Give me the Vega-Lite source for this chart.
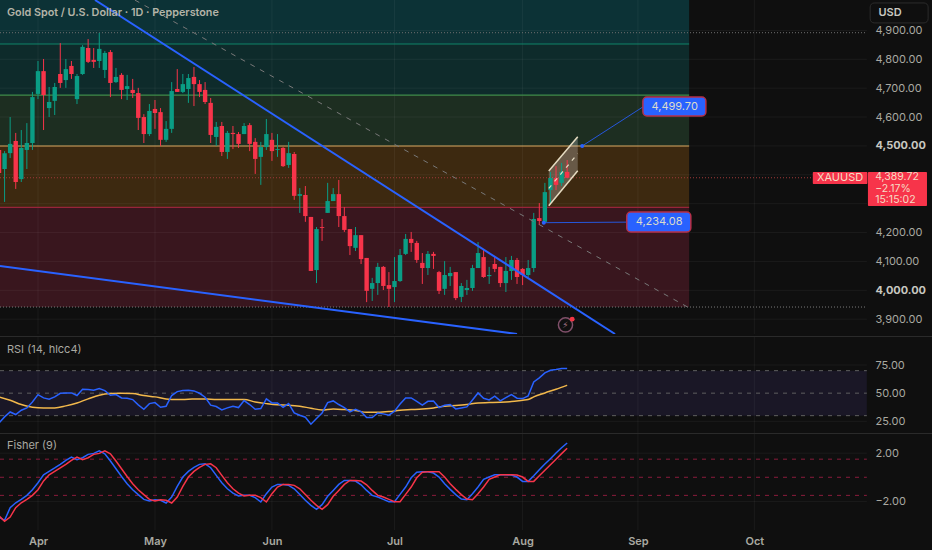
{
  "$schema": "https://vega.github.io/schema/vega-lite/v6.json",
  "background": "#0f0f0f",
  "padding": 0,
  "spacing": 0,
  "config": {
    "view": {"stroke": null},
    "text": {"font": "Inter"},
    "axis": {"labelFont": "Inter", "labelFontSize": 11, "labelColor": "#a9a9a1", "domain": false, "ticks": false, "grid": false, "title": null}
  },
  "datasets": {
    "candles": [
      {"i":-7,"o":4486,"h":4493,"l":4399,"c":4406},{"i":-6,"o":4420,"h":4482,"l":4306,"c":4475},{"i":-5,"o":4475,"h":4600,"l":4458,"c":4507},{"i":-4,"o":4517,"h":4545,"l":4351,"c":4375},
      {"i":-3,"o":4385,"h":4555,"l":4375,"c":4493},{"i":-2,"o":4486,"h":4579,"l":4420,"c":4510},{"i":-1,"o":4510,"h":4687,"l":4486,"c":4669},{"i":0,"o":4680,"h":4794,"l":4662,"c":4759},
      {"i":1,"o":4759,"h":4801,"l":4555,"c":4676},{"i":2,"o":4631,"h":4704,"l":4600,"c":4652},{"i":3,"o":4656,"h":4718,"l":4607,"c":4704},{"i":4,"o":4749,"h":4856,"l":4701,"c":4718},
      {"i":5,"o":4728,"h":4801,"l":4701,"c":4766},{"i":6,"o":4777,"h":4794,"l":4732,"c":4749},{"i":7,"o":4662,"h":4749,"l":4645,"c":4742},{"i":8,"o":4749,"h":4849,"l":4746,"c":4843},
      {"i":9,"o":4839,"h":4870,"l":4787,"c":4791},{"i":10,"o":4798,"h":4839,"l":4770,"c":4791},{"i":11,"o":4794,"h":4891,"l":4770,"c":4836},{"i":12,"o":4763,"h":4829,"l":4735,"c":4822},
      {"i":13,"o":4825,"h":4832,"l":4669,"c":4718},{"i":14,"o":4721,"h":4770,"l":4718,"c":4739},{"i":15,"o":4746,"h":4752,"l":4662,"c":4694},{"i":16,"o":4697,"h":4746,"l":4659,"c":4707},
      {"i":17,"o":4694,"h":4732,"l":4666,"c":4683},{"i":18,"o":4683,"h":4701,"l":4555,"c":4597},{"i":19,"o":4600,"h":4610,"l":4510,"c":4541},{"i":20,"o":4541,"h":4645,"l":4534,"c":4621},
      {"i":21,"o":4628,"h":4659,"l":4559,"c":4614},{"i":22,"o":4617,"h":4631,"l":4500,"c":4521},{"i":23,"o":4521,"h":4586,"l":4514,"c":4559},{"i":24,"o":4559,"h":4721,"l":4545,"c":4690},
      {"i":25,"o":4697,"h":4766,"l":4687,"c":4687},{"i":26,"o":4687,"h":4749,"l":4683,"c":4714},{"i":27,"o":4697,"h":4749,"l":4649,"c":4735},{"i":28,"o":4739,"h":4773,"l":4638,"c":4714},
      {"i":29,"o":4714,"h":4728,"l":4669,"c":4687},{"i":30,"o":4694,"h":4721,"l":4645,"c":4652},{"i":31,"o":4649,"h":4666,"l":4510,"c":4538},{"i":32,"o":4531,"h":4583,"l":4500,"c":4566},
      {"i":33,"o":4569,"h":4583,"l":4465,"c":4479},{"i":34,"o":4479,"h":4552,"l":4455,"c":4545},{"i":35,"o":4545,"h":4569,"l":4489,"c":4541},{"i":36,"o":4541,"h":4548,"l":4493,"c":4507},
      {"i":37,"o":4541,"h":4579,"l":4541,"c":4569},{"i":38,"o":4572,"h":4579,"l":4482,"c":4507},{"i":39,"o":4514,"h":4527,"l":4403,"c":4455},{"i":40,"o":4462,"h":4514,"l":4365,"c":4496},
      {"i":41,"o":4496,"h":4593,"l":4486,"c":4541},{"i":42,"o":4521,"h":4545,"l":4448,"c":4482},{"i":43,"o":4486,"h":4541,"l":4462,"c":4489},{"i":44,"o":4493,"h":4496,"l":4427,"c":4430},
      {"i":45,"o":4434,"h":4514,"l":4424,"c":4475},{"i":46,"o":4472,"h":4479,"l":4313,"c":4327},{"i":47,"o":4327,"h":4354,"l":4268,"c":4333},{"i":48,"o":4330,"h":4361,"l":4237,"c":4257},
      {"i":49,"o":4254,"h":4254,"l":4067,"c":4067},{"i":50,"o":4070,"h":4219,"l":4025,"c":4212},{"i":51,"o":4219,"h":4247,"l":4171,"c":4216},{"i":52,"o":4268,"h":4372,"l":4268,"c":4309},
      {"i":53,"o":4309,"h":4354,"l":4309,"c":4333},{"i":54,"o":4333,"h":4382,"l":4219,"c":4257},{"i":55,"o":4257,"h":4288,"l":4202,"c":4209},{"i":56,"o":4212,"h":4212,"l":4122,"c":4153},
      {"i":57,"o":4147,"h":4219,"l":4136,"c":4191},{"i":58,"o":4191,"h":4191,"l":4091,"c":4108},{"i":59,"o":4112,"h":4112,"l":3959,"c":3998},{"i":60,"o":4005,"h":4043,"l":3963,"c":4025},
      {"i":61,"o":4025,"h":4095,"l":3984,"c":4081},{"i":62,"o":4081,"h":4084,"l":4001,"c":4015},{"i":63,"o":4018,"h":4063,"l":3942,"c":4005},{"i":64,"o":4011,"h":4115,"l":3959,"c":4032},
      {"i":65,"o":4032,"h":4143,"l":4029,"c":4122},{"i":66,"o":4126,"h":4195,"l":4122,"c":4178},{"i":67,"o":4178,"h":4202,"l":4133,"c":4164},{"i":68,"o":4164,"h":4171,"l":4095,"c":4105},
      {"i":69,"o":4095,"h":4129,"l":4022,"c":4077},{"i":70,"o":4077,"h":4136,"l":4053,"c":4126},{"i":71,"o":4126,"h":4133,"l":4074,"c":4119},{"i":72,"o":4063,"h":4067,"l":3987,"c":3998},
      {"i":73,"o":4005,"h":4101,"l":3984,"c":4053},{"i":74,"o":4049,"h":4081,"l":4015,"c":4060},{"i":75,"o":4063,"h":4063,"l":3966,"c":3973},{"i":76,"o":3977,"h":4025,"l":3959,"c":4015},
      {"i":77,"o":4001,"h":4036,"l":3984,"c":4008},{"i":78,"o":4008,"h":4088,"l":3998,"c":4077},{"i":79,"o":4077,"h":4167,"l":4077,"c":4129},{"i":80,"o":4115,"h":4140,"l":4043,"c":4046},
      {"i":81,"o":4049,"h":4081,"l":4022,"c":4053},{"i":82,"o":4091,"h":4115,"l":4063,"c":4074},{"i":83,"o":4081,"h":4081,"l":4011,"c":4025},{"i":84,"o":4025,"h":4115,"l":3994,"c":4067},
      {"i":85,"o":4067,"h":4119,"l":4036,"c":4105},{"i":86,"o":4105,"h":4112,"l":4022,"c":4046},{"i":87,"o":4074,"h":4077,"l":4018,"c":4053},{"i":88,"o":4053,"h":4105,"l":4046,"c":4077},
      {"i":89,"o":4077,"h":4268,"l":4063,"c":4247},{"i":90,"o":4250,"h":4302,"l":4226,"c":4240},{"i":91,"o":4237,"h":4372,"l":4233,"c":4340},{"i":92,"o":4347,"h":4410,"l":4302,"c":4389},
      {"i":93,"o":4389,"h":4430,"l":4347,"c":4365},{"i":94,"o":4372,"h":4441,"l":4361,"c":4410},{"i":95,"o":4410,"h":4451,"l":4389,"c":4389.72}
    ],
    "zones": [
      {"k":"z1","i":-6.822,"i2":116.9,"p":5005.3,"p2":4853},{"k":"z2","i":-6.822,"i2":116.9,"p":4853,"p2":4676},{"k":"z3","i":-6.822,"i2":116.9,"p":4676,"p2":4499.7},{"k":"z4","i":-6.822,"i2":116.9,"p":4499.7,"p2":4287},{"k":"z5","i":-6.822,"i2":116.9,"p":4287,"p2":3942}
    ],
    "levels": [
      {"k":"l1","i":-6.822,"i2":116.9,"p":4853},{"k":"l2","i":-6.822,"i2":116.9,"p":4676},{"k":"l3","i":-6.822,"i2":116.9,"p":4499.7},{"k":"l4","i":-6.822,"i2":116.9,"p":4287}
    ],
    "dotted": [
      {"k":"d1","i":-6.822,"i2":148.8,"p":4892},{"k":"d2","i":-6.822,"i2":148.8,"p":4389.72},{"k":"d3","i":-6.822,"i2":148.8,"p":3942}
    ],
    "priceGrid": [
      {"i":-6.822,"i2":148.8,"p":4900},{"i":-6.822,"i2":148.8,"p":4800},{"i":-6.822,"i2":148.8,"p":4700},{"i":-6.822,"i2":148.8,"p":4600},{"i":-6.822,"i2":148.8,"p":4500},{"i":-6.822,"i2":148.8,"p":4400},{"i":-6.822,"i2":148.8,"p":4300},{"i":-6.822,"i2":148.8,"p":4200},{"i":-6.822,"i2":148.8,"p":4100},{"i":-6.822,"i2":148.8,"p":4000},{"i":-6.822,"i2":148.8,"p":3900}
    ],
    "monthsMain": [
      {"i":0,"p":3848.6,"p2":5005.3},{"i":21,"p":3848.6,"p2":5005.3},{"i":42,"p":3848.6,"p2":5005.3},{"i":64,"p":3848.6,"p2":5005.3},{"i":87,"p":3848.6,"p2":5005.3},{"i":107.7,"p":3848.6,"p2":5005.3},{"i":128.6,"p":3848.6,"p2":5005.3}
    ],
    "monthsRsi": [
      {"i":0,"v":14.6,"v2":100.8},{"i":21,"v":14.6,"v2":100.8},{"i":42,"v":14.6,"v2":100.8},{"i":64,"v":14.6,"v2":100.8},{"i":87,"v":14.6,"v2":100.8},{"i":107.7,"v":14.6,"v2":100.8},{"i":128.6,"v":14.6,"v2":100.8}
    ],
    "monthsFisher": [
      {"i":0,"v":-4.37,"v2":3.67},{"i":21,"v":-4.37,"v2":3.67},{"i":42,"v":-4.37,"v2":3.67},{"i":64,"v":-4.37,"v2":3.67},{"i":87,"v":-4.37,"v2":3.67},{"i":107.7,"v":-4.37,"v2":3.67},{"i":128.6,"v":-4.37,"v2":3.67}
    ],
    "trend": [
      {"i":10.23,"p":5005.3,"i2":103.6,"p2":3848.6},{"i":-6.82,"p":4084,"i2":86,"p2":3848.6}
    ],
    "forecast": [
      {"i":17.4,"p":5005,"i2":116.9,"p2":3939}
    ],
    "channel": [
      {"i":91.7,"p":4413,"p2":4293},{"i":96.9,"p":4532,"p2":4414}
    ],
    "channelEdges": [
      {"i":91.7,"p":4413,"i2":96.9,"p2":4532},{"i":91.7,"p":4293,"i2":96.9,"p2":4414}
    ],
    "channelMid": [
      {"i":91.7,"p":4353,"i2":96.9,"p2":4473}
    ],
    "callouts": [
      {"i":108.6,"i2":119.9,"p":4669,"p2":4604,"t":"4,499.70","mi":114.3,"mp":4636},
      {"i":105.7,"i2":117.2,"p":4271,"p2":4202,"t":"4,234.08","mi":111.5,"mp":4237}
    ],
    "connectors": [
      {"i":97.7,"p":4499.7,"i2":108.6,"p2":4635},{"i":90.8,"p":4234.08,"i2":105.7,"p2":4236}
    ],
    "anchors": [
      {"i":97.7,"p":4499.7},{"i":90.8,"p":4234.08}
    ],
    "priceTags": [
      {"i":139.1,"i2":148.9,"p":4410,"p2":4368},{"i":149,"i2":159.6,"p":4410,"p2":4292}
    ],
    "tagLines": [
      {"i":150.3,"p":4391,"t":"4,389.72"},{"i":150.3,"p":4352,"t":"−2.17%"},{"i":150.3,"p":4313,"t":"15:15:02"}
    ],
    "osc": [
      {"i":-7,"rsi":23.6,"fisher":-3.3,"signal":-3.2},{"i":-6,"rsi":28.9,"fisher":-3.57,"signal":-3.65},{"i":-5,"rsi":33.3,"fisher":-2.52,"signal":-3.3},{"i":-4,"rsi":31,"fisher":-2.11,"signal":-2.52},
      {"i":-3,"rsi":34.8,"fisher":-1.83,"signal":-2.11},{"i":-2,"rsi":36.9,"fisher":-1.5,"signal":-1.83},{"i":-1,"rsi":42.2,"fisher":-1.03,"signal":-1.5},{"i":0,"rsi":48.7,"fisher":-0.45,"signal":-1.03},
      {"i":1,"rsi":45.8,"fisher":0.21,"signal":-0.3},{"i":2,"rsi":44.6,"fisher":0.49,"signal":0.21},{"i":3,"rsi":46.7,"fisher":0.77,"signal":0.49},{"i":4,"rsi":49.9,"fisher":1.07,"signal":0.77},
      {"i":5,"rsi":50.2,"fisher":1.4,"signal":1.07},{"i":6,"rsi":50.2,"fisher":1.68,"signal":1.4},{"i":7,"rsi":47.9,"fisher":1.46,"signal":1.68},{"i":8,"rsi":53.5,"fisher":1.62,"signal":1.46},
      {"i":9,"rsi":53.2,"fisher":1.9,"signal":1.62},{"i":10,"rsi":52.6,"fisher":1.98,"signal":1.9},{"i":11,"rsi":54.1,"fisher":2.2,"signal":1.98},{"i":12,"rsi":52.3,"fisher":1.95,"signal":2.2},
      {"i":13,"rsi":48.1,"fisher":1.35,"signal":1.95},{"i":14,"rsi":48.7,"fisher":0.71,"signal":1.35},{"i":15,"rsi":45.8,"fisher":0.07,"signal":0.71},{"i":16,"rsi":45.5,"fisher":-0.53,"signal":0.07},
      {"i":17,"rsi":44.3,"fisher":-1.03,"signal":-0.53},{"i":18,"rsi":39.6,"fisher":-1.44,"signal":-1.03},{"i":19,"rsi":35.7,"fisher":-1.83,"signal":-1.44},{"i":20,"rsi":40.7,"fisher":-1.97,"signal":-1.83},
      {"i":21,"rsi":41.6,"fisher":-1.86,"signal":-1.97},{"i":22,"rsi":37.5,"fisher":-1.91,"signal":-1.86},{"i":23,"rsi":38.4,"fisher":-2.13,"signal":-1.91},{"i":24,"rsi":47.9,"fisher":-1.64,"signal":-2.13},
      {"i":25,"rsi":51.4,"fisher":-0.75,"signal":-1.64},{"i":26,"rsi":52.3,"fisher":0.02,"signal":-0.75},{"i":27,"rsi":52.6,"fisher":0.49,"signal":0.02},{"i":28,"rsi":52,"fisher":0.82,"signal":0.49},
      {"i":29,"rsi":49.9,"fisher":1.07,"signal":0.82},{"i":30,"rsi":46.4,"fisher":1.12,"signal":1.07},{"i":31,"rsi":39.3,"fisher":0.79,"signal":1.12},{"i":32,"rsi":38.1,"fisher":0.16,"signal":0.79},
      {"i":33,"rsi":35.1,"fisher":-0.45,"signal":0.16},{"i":34,"rsi":36.9,"fisher":-0.95,"signal":-0.45},{"i":35,"rsi":38.4,"fisher":-1.31,"signal":-0.95},{"i":36,"rsi":37.2,"fisher":-1.55,"signal":-1.31},
      {"i":37,"rsi":43.4,"fisher":-1.5,"signal":-1.55},{"i":38,"rsi":39.9,"fisher":-1.5,"signal":-1.5},{"i":39,"rsi":35.7,"fisher":-1.69,"signal":-1.5},{"i":40,"rsi":36.3,"fisher":-2.05,"signal":-1.69},
      {"i":41,"rsi":44.9,"fisher":-1.36,"signal":-2.05},{"i":42,"rsi":41.3,"fisher":-0.81,"signal":-1.36},{"i":43,"rsi":41.3,"fisher":-0.59,"signal":-0.81},{"i":44,"rsi":37.5,"fisher":-0.59,"signal":-0.59},
      {"i":45,"rsi":40.7,"fisher":-0.67,"signal":-0.59},{"i":46,"rsi":32.4,"fisher":-0.95,"signal":-0.67},{"i":47,"rsi":30.4,"fisher":-1.42,"signal":-0.95},{"i":48,"rsi":28.6,"fisher":-1.91,"signal":-1.42},
      {"i":49,"rsi":22.4,"fisher":-2.33,"signal":-1.91},{"i":50,"rsi":27.4,"fisher":-2.66,"signal":-2.33},{"i":51,"rsi":32.4,"fisher":-2.27,"signal":-2.66},{"i":52,"rsi":41.6,"fisher":-1.58,"signal":-2.27},
      {"i":53,"rsi":43.1,"fisher":-1.09,"signal":-1.58},{"i":54,"rsi":39.9,"fisher":-0.59,"signal":-1.09},{"i":55,"rsi":37.2,"fisher":-0.26,"signal":-0.59},{"i":56,"rsi":33.3,"fisher":-0.26,"signal":-0.26},
      {"i":57,"rsi":35.7,"fisher":-0.31,"signal":-0.26},{"i":58,"rsi":33.6,"fisher":-0.62,"signal":-0.31},{"i":59,"rsi":28.3,"fisher":-1.09,"signal":-0.62},{"i":60,"rsi":28.3,"fisher":-1.5,"signal":-1.09},
      {"i":61,"rsi":32.4,"fisher":-1.64,"signal":-1.5},{"i":62,"rsi":31.6,"fisher":-1.83,"signal":-1.64},{"i":63,"rsi":30.4,"fisher":-2.02,"signal":-1.83},{"i":64,"rsi":33.9,"fisher":-2.02,"signal":-2.02},
      {"i":65,"rsi":40.4,"fisher":-1.42,"signal":-2.02},{"i":66,"rsi":45.8,"fisher":-0.81,"signal":-1.42},{"i":67,"rsi":45.8,"fisher":-0.04,"signal":-0.81},{"i":68,"rsi":42.8,"fisher":0.41,"signal":-0.04},
      {"i":69,"rsi":39.3,"fisher":0.46,"signal":0.41},{"i":70,"rsi":42.8,"fisher":0.46,"signal":0.46},{"i":71,"rsi":43.1,"fisher":0.35,"signal":0.46},{"i":72,"rsi":37.2,"fisher":0.02,"signal":0.46},
      {"i":73,"rsi":39.3,"fisher":-0.53,"signal":0.02},{"i":74,"rsi":39.9,"fisher":-1,"signal":-0.53},{"i":75,"rsi":36,"fisher":-1.44,"signal":-1},{"i":76,"rsi":36.9,"fisher":-1.8,"signal":-1.44},
      {"i":77,"rsi":37.8,"fisher":-1.86,"signal":-1.8},{"i":78,"rsi":44,"fisher":-1.36,"signal":-1.86},{"i":79,"rsi":50.2,"fisher":-0.81,"signal":-1.36},{"i":80,"rsi":45.5,"fisher":-0.17,"signal":-0.81},
      {"i":81,"rsi":44,"fisher":0.02,"signal":-0.17},{"i":82,"rsi":47.3,"fisher":0.21,"signal":0.02},{"i":83,"rsi":43.1,"fisher":0.21,"signal":0.21},{"i":84,"rsi":46.1,"fisher":0.21,"signal":0.21},
      {"i":85,"rsi":48.7,"fisher":0.19,"signal":0.21},{"i":86,"rsi":45.5,"fisher":0.02,"signal":0.19},{"i":87,"rsi":45.2,"fisher":-0.34,"signal":0.02},{"i":88,"rsi":47.6,"fisher":-0.34,"signal":-0.34},
      {"i":89,"rsi":60,"fisher":0.13,"signal":-0.34},{"i":90,"rsi":63.6,"fisher":0.63,"signal":0.13},{"i":91,"rsi":68,"fisher":1.1,"signal":0.58},{"i":92,"rsi":70.4,"fisher":1.54,"signal":1.04},
      {"i":93,"rsi":71,"fisher":2.01,"signal":1.49},{"i":94,"rsi":71.9,"fisher":2.45,"signal":1.96},{"i":95,"rsi":71.9,"fisher":2.84,"signal":2.41}
    ],
    "rsiMa": [
      {"i":-7,"v":46.7},{"i":-5,"v":43.7},{"i":-3,"v":39.9},{"i":-1,"v":37.5},{"i":1,"v":36.9},{"i":3,"v":36.9},{"i":5,"v":38.7},{"i":7,"v":41.3},{"i":9,"v":44.9},{"i":11,"v":48.1},
      {"i":13,"v":49.6},{"i":15,"v":49.9},{"i":17,"v":49.6},{"i":19,"v":47.9},{"i":21,"v":46.7},{"i":23,"v":44.9},{"i":25,"v":44.3},{"i":27,"v":44.6},{"i":29,"v":44.9},{"i":31,"v":44.6},
      {"i":33,"v":44.3},{"i":35,"v":44.3},{"i":37,"v":44.3},{"i":39,"v":42.2},{"i":41,"v":40.7},{"i":43,"v":39.6},{"i":45,"v":39.3},{"i":47,"v":38.4},{"i":49,"v":36.6},{"i":51,"v":35.1},
      {"i":53,"v":36},{"i":55,"v":35.4},{"i":57,"v":34.5},{"i":59,"v":33},{"i":61,"v":33},{"i":63,"v":33.6},{"i":65,"v":34.8},{"i":67,"v":35.4},{"i":69,"v":36},{"i":71,"v":36.9},
      {"i":73,"v":38.4},{"i":75,"v":39},{"i":77,"v":39.9},{"i":79,"v":41.3},{"i":81,"v":41.6},{"i":83,"v":41.9},{"i":85,"v":42.5},{"i":87,"v":43.7},{"i":88,"v":44.3},{"i":89,"v":46.7},
      {"i":91,"v":50.2},{"i":93,"v":53.5},{"i":95,"v":57}
    ]
  },
  "vconcat": [
    {
      "width": 932,
      "height": 334,
      "encoding": {
        "x": {"field": "i", "type": "quantitative", "scale": {"domain": [-6.822, 160.5], "nice": false, "zero": false, "padding": 0}, "axis": null},
        "y": {
          "field": "p",
          "type": "quantitative",
          "scale": {"domain": [3848.6, 5005.3], "nice": false, "zero": false, "padding": 0},
          "axis": {
            "orient": "right",
            "offset": -65,
            "labelPadding": 8,
            "values": [3900, 4000, 4100, 4200, 4500, 4600, 4700, 4800, 4900],
            "format": ",.2f",
            "labelFontWeight": {"condition": {"test": "datum.value == 4500 || datum.value == 4000", "value": "bold"}, "value": "normal"},
            "labelColor": {"condition": {"test": "datum.value == 4500 || datum.value == 4000", "value": "#c8c8c0"}, "value": "#a9a9a1"}
          }
        }
      },
      "layer": [
        {
          "data": {"name": "zones"},
          "mark": {"type": "rect", "clip": true},
          "encoding": {
            "x2": {"field": "i2"},
            "y2": {"field": "p2"},
            "color": {"field": "k", "type": "nominal", "legend": null, "scale": {"domain": ["z1", "z2", "z3", "z4", "z5", "l1", "l2", "l3", "l4", "d1", "d2", "d3"], "range": ["#0c3236", "#0e2b2b", "#1d2e21", "#3d2910", "#39161e", "#0e8469", "#3f8c4a", "#d8a65e", "#98253a", "#6f6f6f", "#a03a3a", "#7a7a7a"]}}
          }
        },
        {
          "data": {"name": "priceGrid"},
          "mark": {"type": "rule", "color": "#ffffff", "opacity": 0.05, "strokeWidth": 1, "clip": true},
          "encoding": {"x2": {"field": "i2"}}
        },
        {
          "data": {"name": "monthsMain"},
          "mark": {"type": "rule", "color": "#ffffff", "opacity": 0.05, "strokeWidth": 1, "clip": true},
          "encoding": {"y2": {"field": "p2"}}
        },
        {
          "data": {"name": "levels"},
          "mark": {"type": "rule", "strokeWidth": 1.1, "clip": true},
          "encoding": {
            "x2": {"field": "i2"},
            "color": {"field": "k", "type": "nominal", "legend": null, "scale": {"domain": ["z1", "z2", "z3", "z4", "z5", "l1", "l2", "l3", "l4", "d1", "d2", "d3"], "range": ["#0c3236", "#0e2b2b", "#1d2e21", "#3d2910", "#39161e", "#0e8469", "#3f8c4a", "#d8a65e", "#98253a", "#6f6f6f", "#a03a3a", "#7a7a7a"]}}
          }
        },
        {
          "data": {"name": "dotted"},
          "mark": {"type": "rule", "strokeWidth": 1, "strokeDash": [1, 2], "clip": true},
          "encoding": {
            "x2": {"field": "i2"},
            "color": {"field": "k", "type": "nominal", "legend": null, "scale": {"domain": ["z1", "z2", "z3", "z4", "z5", "l1", "l2", "l3", "l4", "d1", "d2", "d3"], "range": ["#0c3236", "#0e2b2b", "#1d2e21", "#3d2910", "#39161e", "#0e8469", "#3f8c4a", "#d8a65e", "#98253a", "#6f6f6f", "#a03a3a", "#7a7a7a"]}}
          }
        },
        {
          "data": {"name": "channel"},
          "mark": {"type": "area", "color": "#d8d8d8", "opacity": 0.28},
          "encoding": {"y2": {"field": "p2"}}
        },
        {
          "data": {"name": "candles"},
          "mark": {"type": "rule", "strokeWidth": 1, "clip": true},
          "encoding": {
            "y": {"field": "l"},
            "y2": {"field": "h"},
            "color": {"condition": {"test": "datum.c >= datum.o", "value": "#0a9d85"}, "value": "#f7344a"}
          }
        },
        {
          "data": {"name": "candles"},
          "mark": {"type": "bar", "size": 4.4, "clip": true},
          "encoding": {
            "y": {"field": "o"},
            "y2": {"field": "c"},
            "color": {"condition": {"test": "datum.c >= datum.o", "value": "#0a9d85"}, "value": "#f7344a"}
          }
        },
        {
          "data": {"name": "forecast"},
          "mark": {"type": "rule", "color": "#787878", "strokeWidth": 1, "strokeDash": [5, 6], "clip": true},
          "encoding": {"x2": {"field": "i2"}, "y2": {"field": "p2"}}
        },
        {
          "data": {"name": "trend"},
          "mark": {"type": "rule", "color": "#2962ff", "strokeWidth": 2, "clip": true},
          "encoding": {"x2": {"field": "i2"}, "y2": {"field": "p2"}}
        },
        {
          "data": {"name": "channelEdges"},
          "mark": {"type": "rule", "color": "#e6dcc2", "strokeWidth": 1.5},
          "encoding": {"x2": {"field": "i2"}, "y2": {"field": "p2"}}
        },
        {
          "data": {"name": "channelMid"},
          "mark": {"type": "rule", "color": "#e6dcc2", "strokeWidth": 1.2, "strokeDash": [4, 5]},
          "encoding": {"x2": {"field": "i2"}, "y2": {"field": "p2"}}
        },
        {
          "data": {"name": "connectors"},
          "mark": {"type": "rule", "color": "#2557dc", "strokeWidth": 1},
          "encoding": {"x2": {"field": "i2"}, "y2": {"field": "p2"}}
        },
        {
          "data": {"name": "anchors"},
          "mark": {"type": "point", "shape": "circle", "filled": true, "color": "#2962ff", "size": 16, "opacity": 1}
        },
        {
          "data": {"name": "callouts"},
          "mark": {"type": "rect", "fill": "#2962ff", "stroke": "#b7304a", "strokeWidth": 1.5, "cornerRadius": 4},
          "encoding": {"x2": {"field": "i2"}, "y2": {"field": "p2"}}
        },
        {
          "data": {"name": "callouts"},
          "mark": {"type": "text", "color": "#dcdccb", "fontSize": 11, "align": "center", "baseline": "middle"},
          "encoding": {"x": {"field": "mi"}, "y": {"field": "mp"}, "text": {"field": "t"}}
        },
        {
          "data": {"values": [{"i": 94.7, "p": 3880}]},
          "mark": {"type": "point", "shape": "circle", "filled": false, "color": "#80506a", "size": 200, "strokeWidth": 1.5, "opacity": 1}
        },
        {
          "data": {"values": [{"i": 94.7, "p": 3880, "t": "⚡"}]},
          "mark": {"type": "text", "font": "DejaVu Sans", "color": "#a87a8c", "fontSize": 9, "align": "center", "baseline": "middle"},
          "encoding": {"text": {"field": "t"}}
        },
        {
          "data": {"values": [{"i": 95.9, "p": 3900}]},
          "mark": {"type": "point", "shape": "circle", "filled": true, "color": "#f23645", "size": 24, "opacity": 1}
        },
        {
          "data": {"name": "priceTags"},
          "mark": {"type": "rect", "fill": "#f7344a", "cornerRadius": 1},
          "encoding": {"x2": {"field": "i2"}, "y2": {"field": "p2"}}
        },
        {
          "data": {"values": [{"i": 144, "p": 4389.5, "t": "XAUUSD"}]},
          "mark": {"type": "text", "color": "#f6dcc4", "fontSize": 11, "align": "center", "baseline": "middle"},
          "encoding": {"text": {"field": "t"}}
        },
        {
          "data": {"name": "tagLines"},
          "mark": {"type": "text", "color": "#f6dcc4", "fontSize": 10.5, "align": "left", "baseline": "middle"},
          "encoding": {"text": {"field": "t"}}
        },
        {
          "data": {"values": [{"i": 149.4, "i2": 159.8, "p": 4995, "p2": 4926}]},
          "mark": {"type": "rect", "fill": "#0f0f0f", "stroke": "#2c2c2c", "strokeWidth": 1, "cornerRadius": 4},
          "encoding": {"x2": {"field": "i2"}, "y2": {"field": "p2"}}
        },
        {
          "data": {"values": [{"i": 150.9, "p": 4960, "t": "USD"}]},
          "mark": {"type": "text", "color": "#c8c8c0", "fontSize": 11, "fontWeight": 600, "align": "left", "baseline": "middle"},
          "encoding": {"text": {"field": "t"}}
        },
        {
          "data": {"values": [{"i": -5.57, "p": 4962, "t": "Gold Spot / U.S. Dollar · 1D · Pepperstone"}]},
          "mark": {"type": "text", "color": "#b4b4a8", "fontSize": 10.8, "fontWeight": 600, "align": "left", "baseline": "middle"},
          "encoding": {"text": {"field": "t"}}
        }
      ]
    },
    {
      "width": 932,
      "height": 97,
      "encoding": {
        "x": {"field": "i", "type": "quantitative", "scale": {"domain": [-6.822, 160.5], "nice": false, "zero": false}, "axis": null},
        "y": {
          "field": "v",
          "type": "quantitative",
          "scale": {"domain": [14.6, 100.8], "nice": false, "zero": false},
          "axis": {"orient": "right", "offset": -65, "labelPadding": 8, "values": [25, 50, 75], "format": ".2f"}
        }
      },
      "layer": [
        {
          "data": {"values": [{"i": -6.822, "i2": 148.8, "v": 30, "v2": 70}]},
          "mark": {"type": "rect", "fill": "#1a1726"},
          "encoding": {"x2": {"field": "i2"}, "y2": {"field": "v2"}}
        },
        {
          "data": {"values": [{"i": -6.822, "i2": 148.8, "v": 75}, {"i": -6.822, "i2": 148.8, "v": 25}]},
          "mark": {"type": "rule", "color": "#ffffff", "opacity": 0.05, "clip": true},
          "encoding": {"x2": {"field": "i2"}}
        },
        {
          "data": {"name": "monthsRsi"},
          "mark": {"type": "rule", "color": "#ffffff", "opacity": 0.05, "clip": true},
          "encoding": {"y2": {"field": "v2"}}
        },
        {
          "data": {"values": [{"i": -6.822, "i2": 148.8, "v": 70}, {"i": -6.822, "i2": 148.8, "v": 50}, {"i": -6.822, "i2": 148.8, "v": 30}]},
          "mark": {"type": "rule", "color": "#5f5f5f", "strokeWidth": 1, "strokeDash": [4, 5], "clip": true},
          "encoding": {"x2": {"field": "i2"}}
        },
        {
          "data": {"name": "rsiMa"},
          "mark": {"type": "line", "color": "#f2b84b", "strokeWidth": 1.5, "interpolate": "monotone", "clip": true}
        },
        {
          "data": {"name": "osc"},
          "mark": {"type": "line", "color": "#2962ff", "strokeWidth": 1.5, "clip": true},
          "encoding": {"y": {"field": "rsi"}}
        },
        {
          "data": {"values": [{"i": -6.822, "i2": 160.5, "v": 100.8}]},
          "mark": {"type": "rule", "color": "#2a2a2a", "strokeWidth": 2, "clip": true},
          "encoding": {"x2": {"field": "i2"}}
        },
        {
          "data": {"values": [{"i": -5.57, "v": 88.5, "t": "RSI (14, hlcc4)"}]},
          "mark": {"type": "text", "color": "#a9a9a1", "fontSize": 11, "align": "left", "baseline": "middle"},
          "encoding": {"text": {"field": "t"}}
        }
      ]
    },
    {
      "width": 932,
      "height": 97,
      "encoding": {
        "x": {
          "field": "i",
          "type": "quantitative",
          "scale": {"domain": [-6.822, 160.5], "nice": false, "zero": false},
          "axis": {
            "orient": "bottom",
            "values": [0, 21, 42, 64, 87, 107.7, 128.6],
            "labelExpr": "datum.value == 0 ? 'Apr' : datum.value == 21 ? 'May' : datum.value == 42 ? 'Jun' : datum.value == 64 ? 'Jul' : datum.value == 87 ? 'Aug' : datum.value == 107.7 ? 'Sep' : 'Oct'",
            "labelFontWeight": 600,
            "labelPadding": 5,
            "labelFlush": false,
            "labelOverlap": false,
            "minExtent": 22,
            "maxExtent": 22
          }
        },
        "y": {
          "field": "v",
          "type": "quantitative",
          "scale": {"domain": [-4.37, 3.67], "nice": false, "zero": false},
          "axis": {"orient": "right", "offset": -65, "labelPadding": 8, "values": [-2, 2], "format": ".2f"}
        }
      },
      "layer": [
        {
          "data": {"values": [{"i": -6.822, "i2": 148.8, "v": 2}, {"i": -6.822, "i2": 148.8, "v": -2}]},
          "mark": {"type": "rule", "color": "#ffffff", "opacity": 0.05, "clip": true},
          "encoding": {"x2": {"field": "i2"}}
        },
        {
          "data": {"name": "monthsFisher"},
          "mark": {"type": "rule", "color": "#ffffff", "opacity": 0.05, "clip": true},
          "encoding": {"y2": {"field": "v2"}}
        },
        {
          "data": {"values": [{"i": -6.822, "i2": 148.8, "v": 1.5}, {"i": -6.822, "i2": 148.8, "v": 0}, {"i": -6.822, "i2": 148.8, "v": -1.5}]},
          "mark": {"type": "rule", "color": "#8a1c3c", "strokeWidth": 1, "strokeDash": [4, 5], "clip": true},
          "encoding": {"x2": {"field": "i2"}}
        },
        {
          "data": {"name": "osc"},
          "mark": {"type": "line", "color": "#2962ff", "strokeWidth": 1.5, "clip": true},
          "encoding": {"y": {"field": "fisher"}}
        },
        {
          "data": {"name": "osc"},
          "mark": {"type": "line", "color": "#f7344a", "strokeWidth": 1.5, "clip": true},
          "encoding": {"y": {"field": "signal"}}
        },
        {
          "data": {"values": [{"i": -6.822, "i2": 160.5, "v": 3.67}]},
          "mark": {"type": "rule", "color": "#2a2a2a", "strokeWidth": 2, "clip": true},
          "encoding": {"x2": {"field": "i2"}}
        },
        {
          "data": {"values": [{"i": -5.57, "v": 2.59, "t": "Fisher (9)"}]},
          "mark": {"type": "text", "color": "#a9a9a1", "fontSize": 11, "align": "left", "baseline": "middle"},
          "encoding": {"text": {"field": "t"}}
        }
      ]
    }
  ]
}
